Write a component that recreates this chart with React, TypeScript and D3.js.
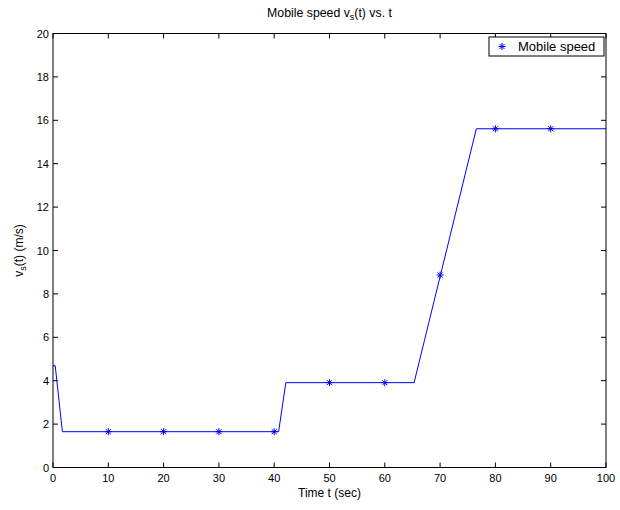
import React from "react";
import * as d3 from "d3";

const lineT = [0, 0.4, 1.7, 40.8, 42.1, 65.3, 76.55, 100];
const lineV = [4.69, 4.69, 1.65, 1.65, 3.91, 3.91, 15.61, 15.61];
const markT = [10, 20, 30, 40, 50, 60, 70, 80, 90];
const markV = [1.65, 1.65, 1.65, 1.65, 3.91, 3.91, 8.87, 15.61, 15.61];
const xTicks = [0, 10, 20, 30, 40, 50, 60, 70, 80, 90, 100];
const yTicks = [0, 2, 4, 6, 8, 10, 12, 14, 16, 18, 20];

const W = 620, H = 510;
const L = 53, R = 606, T = 33.5, B = 467.5;
const BLUE = "#0000ff";
const FONT = "Liberation Sans, Arial, Helvetica, sans-serif";

function Star({ x, y }: { x: number; y: number }) {
  const s = 3.5;
  const d = s * 0.72;
  return (
    <g stroke={BLUE} strokeWidth={1}>
      <line x1={x - s} y1={y} x2={x + s} y2={y} />
      <line x1={x} y1={y - s} x2={x} y2={y + s} />
      <line x1={x - d} y1={y - d} x2={x + d} y2={y + d} />
      <line x1={x - d} y1={y + d} x2={x + d} y2={y - d} />
    </g>
  );
}

export default function App() {
  const x = d3.scaleLinear().domain([0, 100]).range([L, R]);
  const y = d3.scaleLinear().domain([0, 20]).range([B, T]);
  const pts: [number, number][] = lineT.map((t, i) => [t, lineV[i]]);
  const path = d3.line<[number, number]>().x((d) => x(d[0])).y((d) => y(d[1]))(pts) || "";
  const tl = 5;
  return (
    <svg width={W} height={H} style={{ position: "absolute", left: 0, top: 0, background: "#fff" }} fontFamily={FONT}>
      <rect x={0} y={0} width={W} height={H} fill="#fff" />
      <text x={(L + R) / 2} y={17} textAnchor="middle" fontSize={12.3}>
        Mobile speed v<tspan fontSize={9} dy={3}>s</tspan><tspan dy={-3}>(t) vs. t</tspan>
      </text>
      {xTicks.map((t) => (
        <g key={"x" + t}>
          <line x1={x(t)} x2={x(t)} y1={B} y2={B - tl} stroke="#000" />
          <line x1={x(t)} x2={x(t)} y1={T} y2={T + tl} stroke="#000" />
          <text x={x(t)} y={B + 14} textAnchor="middle" fontSize={11}>{t}</text>
        </g>
      ))}
      {yTicks.map((v) => (
        <g key={"y" + v}>
          <line x1={L} x2={L + tl} y1={y(v)} y2={y(v)} stroke="#000" />
          <line x1={R} x2={R - tl} y1={y(v)} y2={y(v)} stroke="#000" />
          <text x={L - 4} y={y(v) + 4} textAnchor="end" fontSize={11}>{v}</text>
        </g>
      ))}
      <text x={(L + R) / 2} y={497} textAnchor="middle" fontSize={12}>Time t (sec)</text>
      <text transform={`translate(23,${(T + B) / 2}) rotate(-90)`} textAnchor="middle" fontSize={12}>
        v<tspan fontSize={9} dy={3}>s</tspan><tspan dy={-3}>(t) (m/s)</tspan>
      </text>
      <path d={path} fill="none" stroke={BLUE} strokeWidth={1} />
      {markT.map((t, i) => (
        <Star key={"m" + t} x={x(t)} y={y(markV[i])} />
      ))}
      <rect x={L} y={T} width={R - L} height={B - T} fill="none" stroke="#000" strokeWidth={1} />
      <rect x={489} y={37} width={115} height={19} fill="#fff" stroke="#000" strokeWidth={1} />
      <Star x={502} y={46.5} />
      <text x={518} y={51} fontSize={13}>Mobile speed</text>
    </svg>
  );
}
